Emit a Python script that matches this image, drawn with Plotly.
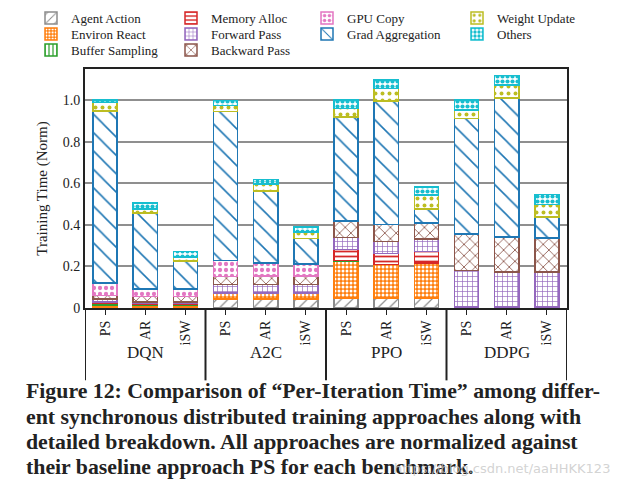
import plotly.graph_objects as go

benchmarks = ["DQN", "A2C", "PPO", "DDPG"]
approaches = ["PS", "AR", "iSW"]

series_names = ["Agent Action", "Environ React", "Buffer Sampling", "Memory Alloc",
                "Forward Pass", "Backward Pass", "GPU Copy", "Grad Aggregation",
                "Weight Update", "Others"]

# values per bar: DQN PS, AR, iSW | A2C PS, AR, iSW | PPO PS, AR, iSW | DDPG PS, AR, iSW
agent_action     = [0.004, 0.004, 0.004, 0.043, 0.043, 0.043, 0.048, 0.047, 0.047, 0.000, 0.000, 0.000]
environ_react    = [0.010, 0.008, 0.008, 0.029, 0.030, 0.030, 0.177, 0.162, 0.170, 0.000, 0.000, 0.000]
buffer_sampling  = [0.008, 0.006, 0.006, 0.000, 0.000, 0.000, 0.003, 0.000, 0.000, 0.005, 0.005, 0.005]
memory_alloc     = [0.007, 0.005, 0.005, 0.000, 0.000, 0.000, 0.053, 0.053, 0.056, 0.000, 0.000, 0.000]
forward_pass     = [0.015, 0.006, 0.006, 0.040, 0.040, 0.040, 0.058, 0.059, 0.060, 0.175, 0.169, 0.169]
backward_pass    = [0.017, 0.027, 0.027, 0.040, 0.040, 0.040, 0.079, 0.080, 0.077, 0.175, 0.168, 0.162]
gpu_copy         = [0.060, 0.036, 0.036, 0.077, 0.064, 0.059, 0.000, 0.000, 0.000, 0.000, 0.000, 0.000]
grad_aggregation = [0.828, 0.366, 0.134, 0.717, 0.345, 0.122, 0.500, 0.594, 0.067, 0.558, 0.668, 0.101]
weight_update    = [0.041, 0.019, 0.019, 0.029, 0.035, 0.032, 0.042, 0.061, 0.066, 0.039, 0.062, 0.062]
others           = [0.010, 0.029, 0.026, 0.024, 0.021, 0.024, 0.040, 0.042, 0.040, 0.048, 0.047, 0.046]

y_ticks = [0, 0.2, 0.4, 0.6, 0.8, 1.0]
y_tick_text = ["0", "0.2", "0.4", "0.6", "0.8", "1.0"]

caption_lines = [
    "Figure 12: Comparison of \u201cPer-Iteration Time\u201d among differ-",
    "ent synchronous distributed training approaches along with",
    "detailed breakdown. All approaches are normalized against",
    "their baseline approach PS for each benchmark.",
]

series_values = [agent_action, environ_react, buffer_sampling, memory_alloc, forward_pass,
                 backward_pass, gpu_copy, grad_aggregation, weight_update, others]

colors = ["#8c8c8c", "#ff7f0e", "#2ca02c", "#d62728", "#9467bd",
          "#8c564b", "#e377c2", "#1f77b4", "#bcbd22", "#17becf"]
# (shape, size, solidity, bg, fg)
patterns = [
    ("/", 8, 0.15, "white", None),
    (".", 4, 0.45, "#ff7f0e", "white"),
    ("|", 5, 0.3, "white", None),
    ("-", 5, 0.35, "white", None),
    ("+", 5, 0.25, "white", None),
    ("x", 8, 0.2, "white", None),
    (".", 6, 0.4, "white", None),
    ("\\", 13, 0.12, "white", None),
    (".", 7, 0.25, "white", None),
    (".", 5, 0.55, "white", None),
]
# legend grid position (column, row) of each series
legend_cell = [(0, 0), (0, 1), (0, 2), (1, 0), (1, 1), (1, 2), (2, 0), (2, 1), (3, 0), (3, 1)]
legend_col_text_x = [72, 212, 348, 498]
legend_row_y = [18, 34, 50]

keys = [f"{b} {a}" for b in benchmarks for a in approaches]
tick_text = [a for b in benchmarks for a in approaches]

serif = "Liberation Serif"
OFF = 8  # page body margin offset of the figure div
PLOT_TOP, PLOT_BOTTOM, PLOT_LEFT, PLOT_RIGHT = 69 - OFF, 308.5 - OFF, 85 - OFF, 567 - OFF
ph = PLOT_BOTTOM - PLOT_TOP
pw = PLOT_RIGHT - PLOT_LEFT

def py(p):
    return (PLOT_BOTTOM - (p - OFF)) / ph

def px(p):
    return ((p - OFF) - PLOT_LEFT) / pw

fig = go.Figure()
legends = {}
for i, (name, vals, col, pat, cell) in enumerate(zip(series_names, series_values, colors,
                                                      patterns, legend_cell)):
    shape, size, sol, bg, fg = pat
    lg = "legend" if i == 0 else f"legend{i + 1}"
    fig.add_trace(go.Bar(
        x=keys, y=vals, name=name, legend=lg, showlegend=True,
        marker=dict(color="white",
                    line=dict(color=col, width=1.5),
                    pattern=dict(shape=shape, size=size, solidity=sol,
                                 bgcolor=bg, fgcolor=fg if fg else col,
                                 fillmode="replace")),
    ))
    c, r = cell
    legends[lg] = dict(font=dict(family=serif, size=13, color="#222"),
                       bgcolor="rgba(0,0,0,0)", xanchor="left", yanchor="middle",
                       x=px(legend_col_text_x[c] - 41), y=py(legend_row_y[r]),
                       itemwidth=30)

fig.update_layout(
    width=622, height=488, showlegend=True,
    margin=dict(l=PLOT_LEFT, r=622 - PLOT_RIGHT, t=PLOT_TOP, b=488 - PLOT_BOTTOM,
                autoexpand=False),
    paper_bgcolor="white", plot_bgcolor="white",
    barmode="stack", bargap=0.4,
    font=dict(family=serif, size=13, color="#222"),
    **legends,
)
fig.update_yaxes(range=[0, 1.15], tickvals=y_ticks, ticktext=y_tick_text,
                 showgrid=True, gridcolor="#8f8f8f", gridwidth=1.5,
                 ticks="inside", ticklen=6, tickcolor="#8f8f8f",
                 showline=True, linecolor="#222", linewidth=2, mirror=True,
                 tickfont=dict(family=serif, size=14, color="#222"),
                 title=dict(text="Training Time (Norm)", font=dict(family=serif, size=15, color="#222"),
                            standoff=11),
                 zeroline=False)
fig.update_xaxes(tickvals=keys, ticktext=tick_text, tickangle=-90,
                 range=[-0.5, len(keys) - 0.5],
                 ticks="outside", ticklen=5, tickcolor="#222",
                 showline=True, linecolor="#222", linewidth=2, mirror=True,
                 tickfont=dict(family=serif, size=14, color="#222"))

# group dividers and labels
n = len(approaches)
for i in range(len(benchmarks) + 1):
    fig.add_shape(type="line", xref="x", yref="paper", x0=i * n - 0.5, x1=i * n - 0.5,
                  y0=0, y1=py(381), line=dict(color="#222", width=2))
for i, b in enumerate(benchmarks):
    fig.add_annotation(x=keys[i * n + 1], y=py(365), xref="x", yref="paper", text=b,
                       showarrow=False, font=dict(family=serif, size=17, color="#222"))

# caption
for j, line in enumerate(caption_lines):
    fig.add_annotation(x=px(24), y=py(392 + 25.3 * j), xref="paper", yref="paper",
                       xanchor="left", yanchor="middle", text=f"<b>{line}</b>", showarrow=False,
                       font=dict(family=serif, size=21.8, color="#222"))
fig.add_annotation(x=px(612), y=py(469), xref="paper", yref="paper", xanchor="right",
                   yanchor="middle", text="https://blog.csdn.net/aaHHKK123", showarrow=False,
                   font=dict(family="DejaVu Sans", size=13, color="rgba(200,200,200,0.8)"))

fig.write_html("out.html")
